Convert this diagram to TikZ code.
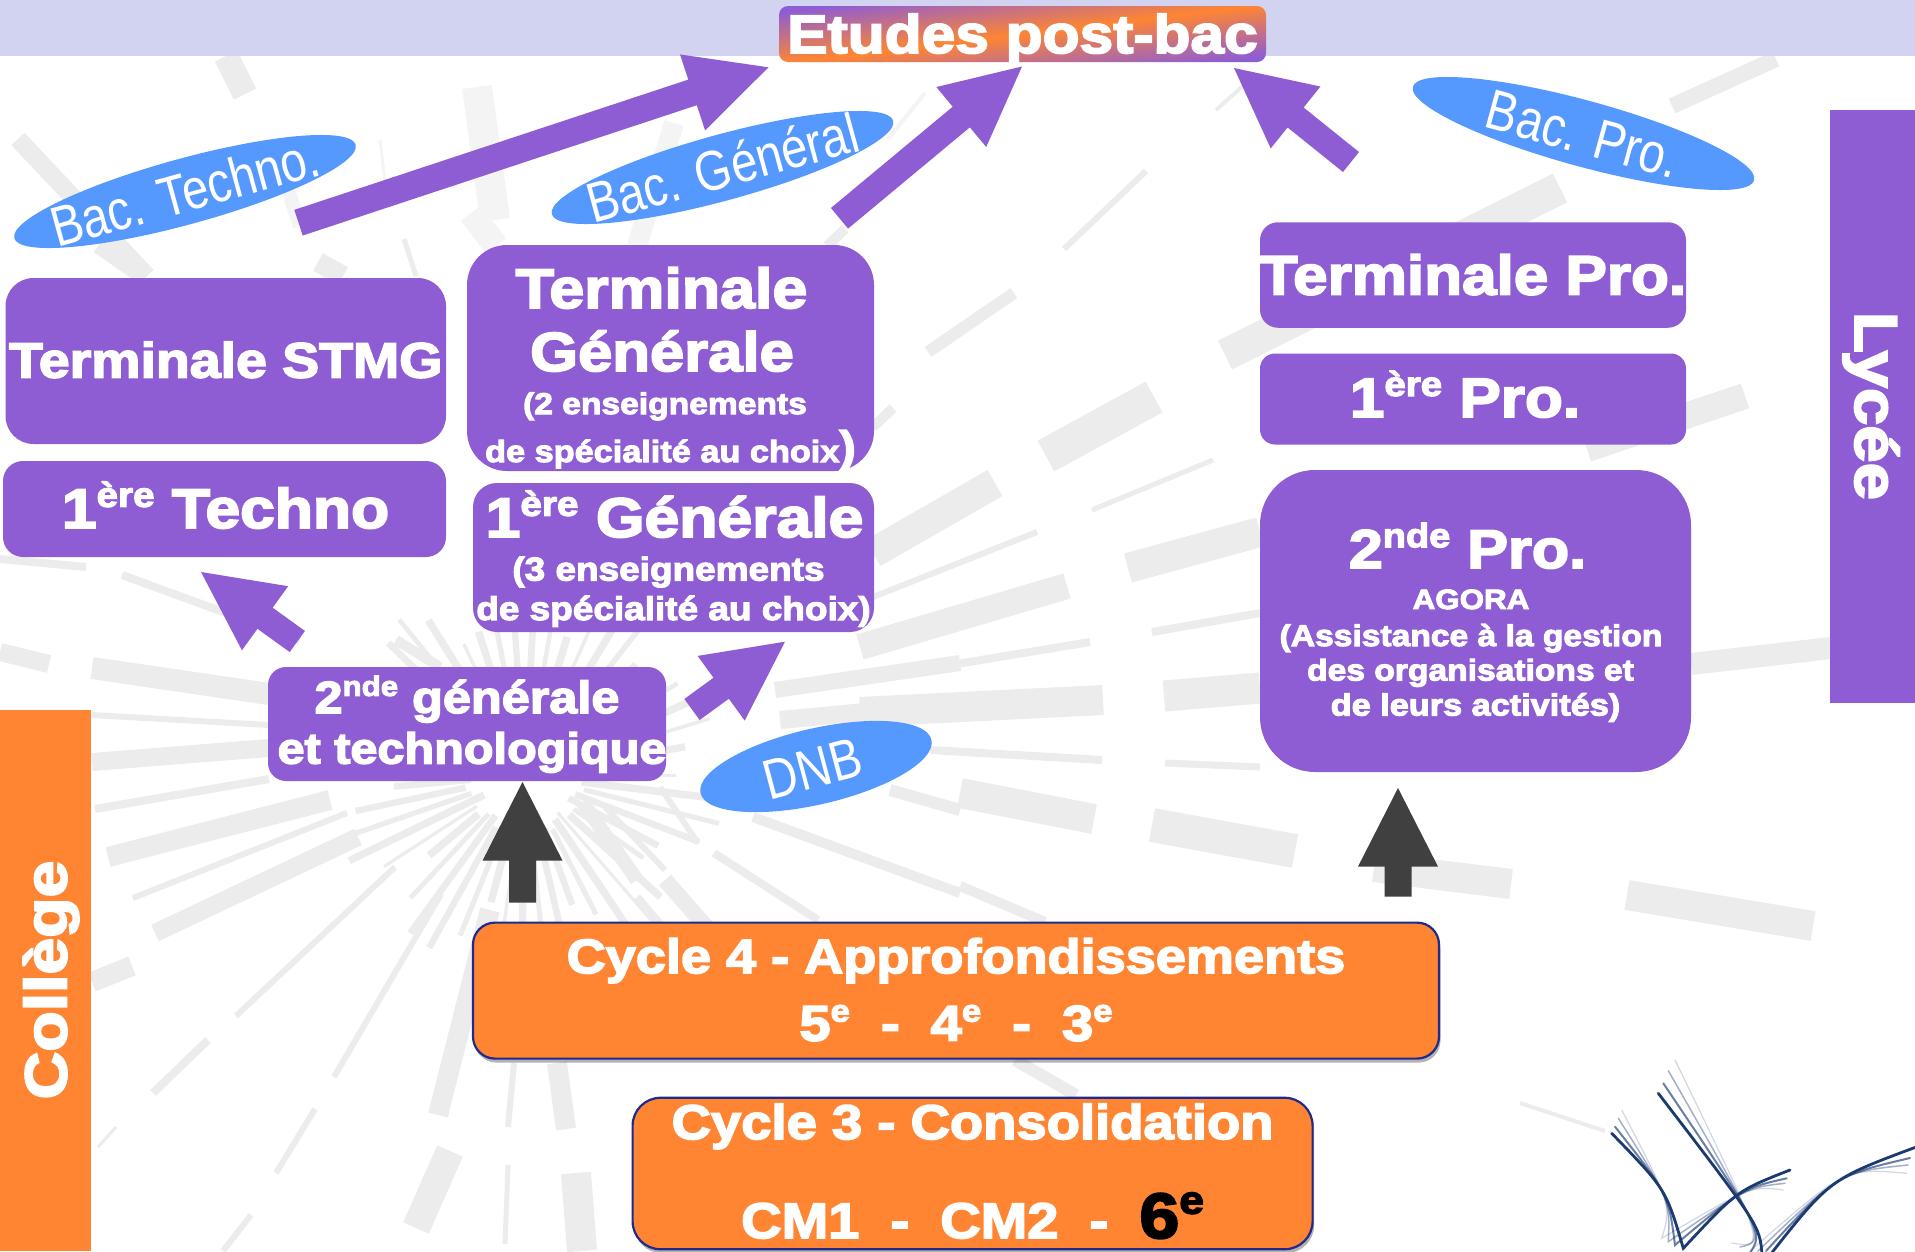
\documentclass[tikz,border=0pt]{standalone}
\usepackage{fontspec}
\usetikzlibrary{calc,shapes.geometric,shadows}
\newfontfamily\hbfont[UprightFont={* Bold},FakeStretch=1.12,FakeBold=3.4]{Liberation Sans}
\newfontfamily\ltfont{Liberation Sans}
\definecolor{pur}{HTML}{8E5DD3}
\definecolor{org}{HTML}{FF8533}
\definecolor{blu}{HTML}{5599FF}
\definecolor{bandc}{HTML}{D2D3F0}
\definecolor{navyb}{HTML}{1F2A8C}
\definecolor{raycol}{HTML}{ECECEC}
\definecolor{rayfaint}{HTML}{F4F4F4}
\definecolor{darka}{HTML}{404040}
\definecolor{logoc}{HTML}{1B3A70}
\newcommand\row[4]{\makebox[0pt]{\hspace*{#1pt}\hspace*{#1pt}\smash{\raisebox{-#2pt}{\fontsize{#3}{#3}\hbfont\color{white}#4}}}}
\newcommand\rowm[4]{\makebox[0pt]{\hspace*{#1pt}\hspace*{#1pt}\smash{\raisebox{#2pt}{\fontsize{#3}{#3}\hbfont\color{white}#4}}}}
\newcommand\ex[1]{\raisebox{.38em}{\scalebox{.62}{#1}}}
\newcommand\ztext[2]{\makebox[0pt]{\smash{\fontsize{#1}{#1}\ltfont\color{white}\raisebox{-.43em}{\scalebox{1}[1.2]{#2}}}}}
\newcommand\blockarrow[6]{%
  \coordinate (ba) at ($(#3)!#6pt!(#2)$);
  \fill[#1] ($(#2)!#4pt!90:(#3)$) -- ($(ba)!#4pt!90:(#3)$) -- ($(ba)!#5pt!90:(#3)$) -- (#3)
    -- ($(ba)!#5pt!-90:(#3)$) -- ($(ba)!#4pt!-90:(#3)$) -- ($(#2)!#4pt!-90:(#3)$) -- cycle;}
\tikzset{
  ray/.style={draw=raycol,line cap=butt},
  rayf/.style={draw=rayfaint,line cap=butt},
  pbox/.style={fill=pur,inner sep=0pt,rectangle},
  obox/.style={fill=org,draw=navyb,line width=2.2pt,inner sep=0pt,rectangle,
     drop shadow={shadow xshift=1.5pt,shadow yshift=-4pt,fill=black,opacity=.3}},
  bac/.style={ellipse,fill=blu,inner sep=0pt,minimum width=354pt,minimum height=66pt},
  blockpurple/.style={fill=pur},
  blockdark/.style={fill=darka},
  logo/.style={draw=logoc,line cap=round,line join=miter},
}
\begin{document}
\begin{tikzpicture}[x=1pt,y=-1pt]
\useasboundingbox (0,0) rectangle (1915,1251);
\clip (0,0) rectangle (1915,1251);
\fill[white] (0,0) rectangle (1915,1251);
% background rays
\coordinate (c) at (525,775);
\foreach \ang in {0,7,...,357}{
  \pgfmathsetmacro\ra{45+16*abs(sin(\ang*7))}
  \pgfmathsetmacro\rb{125+75*abs(sin(\ang*5+20))}
  \pgfmathsetmacro\wd{3+4.5*abs(sin(\ang*11))}
  \draw[ray,line width=\wd pt] ($(c)+(\ang:\ra)$) -- ($(c)+(\ang:\rb)$);
}
\foreach \xa/\ya/\xb/\yb/\w in {
 0/652/49/664/18, 92/668/269/694/22, 92/715/269/725/6, 92/762/269/748/18,
 95/809/269/779/8, 108/857/330/800/20, 133/898/347/813/6, 155/933/358/837/18,
 92/982/132/966/20, 236/1016/395/867/6, 153/1093/208/1040/8, 334/1077/441/894/6,
 276/1173/315/1109/6, 98/1147/116/1127/3, 438/1115/490/910/20, 508/1127/514/1063/6,
 566/1129/557/1063/20, 416/1228/450/1151/28, 505/1244/508/1165/5, 582/1251/576/1173/30,
 223/1251/251/1215/6, 775/690/960/663/16, 780/720/960/703/18,
 860/712/1103/700/30, 1164/696/1260/688/31, 930/750/1102/760/8, 1165/763/1260/767/7,
 960/793/1094/819/30, 1152/825/1295/851/34, 1374/867/1511/884/30, 1627/895/1813/926/30,
 860/680/1090/642/8, 1152/632/1260/613/8, 1691/664/1831/648/22, 960/886/1045/922/10,
 1520/1103/1605/1131/4, 1015/1060/1076/1095/12, 1064/249/1146/171/6, 928/352/1014/293/12,
 1225/355/1560/188/32, 1046/456/1154/397/35, 873/553/995/483/30, 873/597/1037/532/6,
 860/647/1067/586/26, 1092/510/1213/460/5, 1128/568/1260/532/30,
 893/408/873/427/10, 1672/106/1776/59/16, 1216/110/1252/78/4, 1587/449/1745/396/26,
 226/56/245/94/25, 18/139/147/276/18, 404/239/416/276/5, 318/262/343/276/20,
 98/246/141/276/15, 845/229/827/246/10,
 122/575/300/640/8, 0/559/86/567/8, 396/640/440/667/10,
 665/880/709/930/16, 714/853/818/920/8, 753/817/960/893/10, 637/897/665/930/8,
 583/803/637/880/14, 605/807/665/870/6, 660/787/698/843/6, 890/790/960/810/12}{
  \draw[ray,line width=\w pt] (\xa,\ya) -- (\xb,\yb);
}
\foreach \xa/\ya/\xb/\yb/\w in {
 477/87/495/220/30, 380/140/386/190/3, 288/190/300/226/14, 471/213/496/246/25,
 674/123/637/246/20, 925/93/888/139/4}{
  \draw[rayf,line width=\w pt] (\xa,\ya) -- (\xb,\yb);
}
% logo
\foreach \o/\w/\xt/\yt/\xb/\yb/\xe/\ye in {
 .2/1.2/1621.7/1110/1661.7/1238.3/1783.3/1190,
 .4/1.5/1618.3/1118.3/1668.3/1241.7/1785/1183.3,
 .65/2/1615/1126.7/1675/1245/1786.7/1178.3,
 1/2.8/1611.7/1133.3/1683.3/1248.3/1790/1170}{
  \draw[logo,opacity=\o,line width=\w pt]
    (\xt,\yt) .. controls ({2*1656.7-(\xt+\xb)/2},{2*1190-(\yt+\yb)/2}) .. (\xb,\yb)
    .. controls ({2*1736.7-(\xb+\xe)/2},{2*1200-(\yb+\ye)/2}) .. (\xe,\ye);
}
\foreach \o/\w/\xt/\yt/\xb/\yb/\xc/\yc/\xe/\ye in {
 .2/1.2/1675/1060/1731.7/1243/1750/1251/1906.7/1173.3,
 .4/1.5/1668.3/1070.7/1740/1247/1758/1251/1908/1165,
 .65/2/1663.3/1083.3/1750/1253/1766/1251/1910/1158,
 1/2.8/1658.3/1093.3/1762/1255/1770/1255/1917/1146.7}{
  \draw[logo,opacity=\o,line width=\w pt]
    (\xt,\yt) .. controls ({2*1735-(\xt+\xb)/2},{2*1200-(\yt+\yb)/2}) .. (\xb,\yb);
  \draw[logo,opacity=\o,line width=\w pt]
    (\xc,\yc) .. controls ({2*1836.7-(\xc+\xe)/2},{2*1190-(\yc+\ye)/2}) .. (\xe,\ye);
}
% bands
\fill[bandc] (0,0) rectangle (1915,56);
\node[fill=pur,inner sep=0pt,minimum width=85pt,minimum height=592.5pt,anchor=north west] (lycee) at (1830,110) {};
\node[rotate=-90] (lyceeT) at (1871,406) {\fontsize{60}{60}\hbfont\color{white}Lycée};
\node[fill=org,inner sep=0pt,minimum width=91pt,minimum height=541pt,anchor=north west] (college) at (0,710) {};
\node[rotate=90] (collegeT) at (51,980) {\fontsize{59}{59}\hbfont\color{white}Collège};
% title
\node[rectangle,inner sep=0pt,rounded corners=9pt,top color=pur,bottom color=pur,middle color=org,shading angle=7,
  minimum width=487pt,minimum height=56pt] (etudes) at (1022.5,34) {\row{0}{19}{54}{Etudes post-bac}};
% purple boxes
\node[pbox,rounded corners=28pt,minimum width=440.5pt,minimum height=166pt] (tstmg) at (225.75,361) {\row{0}{16.5}{49.5}{Terminale STMG}};
\node[pbox,rounded corners=20pt,minimum width=443pt,minimum height=96pt] (ptechno) at (224.5,509) {\row{1}{19}{55.7}{1\ex{ère} Techno}};
\node[pbox,rounded corners=40pt,minimum width=407pt,minimum height=226pt] (tgen) at (670.5,358)
  {\rowm{-9}{50}{56}{Terminale}\row{-8.5}{13}{55}{Générale}\row{-5.5}{56}{30}{(2 enseignements}\row{0}{104}{30.6}{de spécialité au choix{\fontsize{44}{44}\selectfont)}}};
\node[pbox,rounded corners=24pt,minimum width=401pt,minimum height=149pt] (pgen) at (673.5,557.5)
  {\rowm{1}{20.5}{55.8}{1\ex{ère} Générale}\row{-5}{23}{33}{(3 enseignements}\row{0}{62.5}{33}{de spécialité au choix)}};
\node[pbox,rounded corners=18pt,minimum width=398pt,minimum height=114pt] (sgt) at (467,724)
  {\rowm{0}{11}{45}{2\ex{nde} générale}\row{5}{39.5}{43.4}{et technologique}};
\node[pbox,rounded corners=18pt,minimum width=426pt,minimum height=105.5pt] (tpro) at (1473,275) {\row{0}{19.5}{55.4}{Terminale Pro.}};
\node[pbox,rounded corners=15pt,minimum width=426pt,minimum height=91pt] (ppro) at (1473,399) {\row{-8}{18}{55.4}{1\ex{ère} Pro.}};
\node[pbox,rounded corners=55pt,minimum width=431pt,minimum height=302pt] (spro) at (1475.5,621)
  {\rowm{-8}{53}{54.6}{2\ex{nde} Pro.}\rowm{-4.5}{12}{28}{AGORA}\row{-4.5}{25}{30}{(Assistance à la gestion}\row{-5}{59.5}{30}{des organisations et}\row{0}{94.5}{30.6}{de leurs activités)}};
% orange boxes
\node[obox,rounded corners=22pt,minimum width=966pt,minimum height=136pt] (c4) at (956,990.6)
  {\rowm{0}{17.5}{48.3}{Cycle 4 - Approfondissements}\row{0}{50}{50}{5\ex{e}\ \ -\ \ 4\ex{e}\ \ -\ \ 3\ex{e}}};
\node[obox,rounded corners=28pt,minimum width=680pt,minimum height=151.5pt] (c3) at (972.6,1173.5)
  {\rowm{0}{34.5}{48.6}{Cycle 3 - Consolidation}\row{0}{64.5}{50}{CM1\ \ -\ \ CM2\ \ -\ \ {\fontsize{64}{64}\selectfont\color{black}6\ex{e}}}};
% ellipses
\node[bac,rotate=15.3] (btechno) at (185,191.5) {\ztext{47}{Bac. Techno.}};
\node[bac,rotate=15.3] (bgen) at (722.5,167.5) {\ztext{47}{Bac. Général}};
\node[bac,rotate=-15.3] (bpro) at (1583.5,133.5) {\ztext{47}{Bac. Pro.}};
\node[bac,rotate=13,minimum width=237pt,minimum height=76pt] (dnb) at (816,766.5) {\rotatebox{2}{\hspace*{-8pt}\ztext{47}{DNB}}};
% arrows
\coordinate (a1t) at (298.5,222.7); \coordinate (a1h) at (768.5,67.3);
\coordinate (a2t) at (839.5,218.3); \coordinate (a2h) at (1022,66.5);
\coordinate (a3t) at (1351,162);    \coordinate (a3h) at (1234,68);
\coordinate (a4t) at (297.3,641.5); \coordinate (a4h) at (201,572);
\coordinate (a5t) at (692,709.5);   \coordinate (a5h) at (785,641.7);
\coordinate (d1t) at (522.5,902.5); \coordinate (d1h) at (522.5,782);
\coordinate (d2t) at (1398,896.5);  \coordinate (d2h) at (1398,788);
\blockarrow{blockpurple}{a1t}{a1h}{13.5}{40}{80}
\blockarrow{blockpurple}{a2t}{a2h}{13.4}{39}{79}
\blockarrow{blockpurple}{a3t}{a3h}{12.8}{39.7}{79}
\blockarrow{blockpurple}{a4t}{a4h}{13}{39.5}{79}
\blockarrow{blockpurple}{a5t}{a5h}{13}{40}{79}
\blockarrow{blockdark}{d1t}{d1h}{13.5}{40}{78.6}
\blockarrow{blockdark}{d2t}{d2h}{13.5}{40}{78.6}
\end{tikzpicture}
\end{document}
